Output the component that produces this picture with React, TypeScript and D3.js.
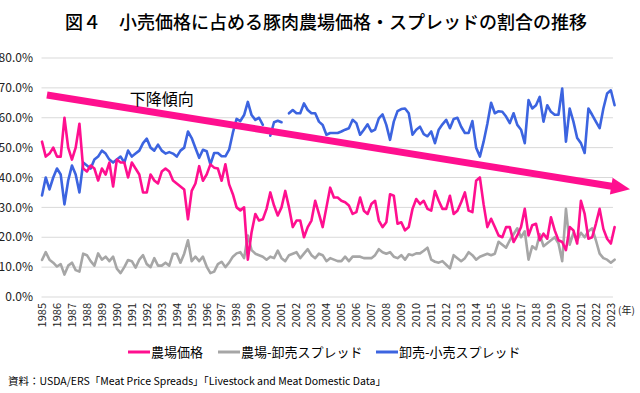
import React from 'react'
import * as d3 from 'd3'

// years on the axis; each row of the series below holds that year's quarterly readings
const years = [
  1985, 1986, 1987, 1988, 1989, 1990, 1991, 1992, 1993, 1994,
  1995, 1996, 1997, 1998, 1999, 2000, 2001, 2002, 2003, 2004,
  2005, 2006, 2007, 2008, 2009, 2010, 2011, 2012, 2013, 2014,
  2015, 2016, 2017, 2018, 2019, 2020, 2021, 2022, 2023,
]

// 農場価格 (%)
const farmShare = [
  [52, 47, 48, 50], [47, 47, 60, 50], [46, 50, 58, 43], [42, 44, 43, 39],
  [43, 41, 45, 37], [46, 45, 45, 40], [45, 43, 41, 35], [35, 41, 39, 38],
  [42, 43, 42, 39], [38, 37, 36, 26], [35.5, 38, 43.8, 38.9], [41, 44.4, 43.3, 43],
  [38.9, 44.4, 37.7, 34.4], [30, 29, 30, 12.5], [21.7, 27.8, 25.6, 26], [29.5, 35, 30.6, 27.3],
  [30, 35.5, 30, 23.4], [25.6, 25.6, 20, 23.4], [25.6, 32.2, 27.8, 23.4], [30, 36.6, 33.3, 33.3],
  [32.2, 31.7, 30.6, 27.8], [28.4, 33.3, 28.9, 27.8], [31.1, 32.2, 25.6, 23.4], [25, 34.4, 33.9, 24.5],
  [25, 22.3, 23.4, 29.5], [32.8, 31.1, 32.2, 29.5], [28.9, 35.5, 32.2, 29.5], [29.5, 33.9, 27.8, 28.9],
  [31.7, 35, 28.9, 28.4], [38.9, 40, 31, 23.4], [26.2, 23.4, 20.6, 20], [23.4, 23.4, 18.4, 20.6],
  [23.4, 29.5, 20.6, 24], [24.5, 19, 21.2, 19.5], [26.7, 22.3, 19, 18.4], [15.7, 23.4, 22.3, 17.9],
  [32.2, 27.8, 19.5, 20], [24.5, 29.5, 22.8, 19.5], [17.9, 23.4],
]

// 農場-卸売スプレッド (%)
const farmWholesale = [
  [12.4, 15, 12.5, 11.5], [10.2, 11, 7.5, 10.5], [11.5, 9, 8.5, 14.5], [14, 12, 10.5, 14.6],
  [12.5, 13.5, 12, 13.5], [9.5, 8, 10, 12.4], [12, 9.8, 12.5, 14], [11, 10, 13, 10.5],
  [10.5, 11.5, 10.5, 14.5], [14.5, 11.5, 14.5, 19], [12, 13.5, 12, 13.5], [10.2, 8, 8.5, 11],
  [11.8, 10, 11.5, 13.5], [14.6, 15, 13, 20.6], [15.7, 14.5, 14, 13.5], [12.5, 13.5, 13, 15.5],
  [13, 12, 14, 14.5], [15, 13, 14.5, 16], [14, 13, 14.5, 14], [12, 13, 12.5, 12],
  [12, 13.5, 12, 13.5], [13.5, 13.5, 13, 13], [13, 14, 16, 15], [14.5, 15, 13.5, 13],
  [14, 12.5, 14.3, 14], [14.6, 14.6, 15.5, 16.5], [12.5, 11.8, 11.5, 12], [10.8, 9.6, 14, 13],
  [12, 13, 15, 14], [12.5, 13.5, 14, 14.5], [14, 14.5, 18.5, 17.5], [16.5, 19, 21, 23],
  [20, 22, 12.5, 17], [16, 21, 17, 18], [19, 20, 18, 12], [29.5, 17.5, 21.5, 19],
  [21.5, 20, 22, 23], [19, 14.5, 13, 12.5], [11.5, 12.5],
]

// 卸売-小売スプレッド (%), null where the source has no figure
const wholesaleRetail = [
  [34, 40, 36, 40], [43, 41, 31, 39], [44, 41, 35, 45], [44, 43, 46, 47],
  [49, 48, 46, 45], [46, 47, 45, 49], [47, 48, 49, 51.5], [53, 50, 49, 51],
  [49, 48, 48.5, 48], [47, 49, 50, 55.4], [53.2, 49.9, 46.6, 49.3], [48.8, 44.4, 48.2, 48.2],
  [47.1, 47.1, 49.3, 55], [59.6, 58.9, 60.9, 65.3], [60.9, 59.3, 60, 57.6], [null, 54, 58.5, 59],
  [58.5, null, 61.5, 62.6], [61.5, 61.5, 64.8, 62.6], [61.5, 61.5, 58.7, 57.6], [54.3, 54.9, 54.9, 54.9],
  [55.4, 56, 56.5, 59.3], [58.2, 54.3, 56, 57.8], [55.4, 56, 59.8, 61.1], [57.6, 52.6, 58.7, 62.2],
  [62.9, 63.1, 61.5, 54.3], [56, 57, 54.5, 53.8], [55.4, 51.5, 56, 57.8], [59.3, 56.5, 59.6, 60],
  [57, 54.9, 54.9, 58.9], [50, 47, 52, 58], [65, 61.5, 62.2, 62], [60.4, 58.2, 61.5, 57.6],
  [56, 51.5, 65.9, 63.1], [64.2, 67, 58.7, 64.2], [62, 61, 61, 69.8], [52, 63.1, 58.7, 53.2],
  [51.5, 48.2, 63.1, 61], [58.7, 56.5, 63.1, 68.1], [69.2, 64.2],
]

const yTicks = [0, 10, 20, 30, 40, 50, 60, 70, 80]

const seriesNames = ['農場価格', '農場-卸売スプレッド', '卸売-小売スプレッド']
const seriesColors = ['#ff0f8f', '#a6a6a6', '#3c64e0']

// trend arrow drawn over the chart: [year, %]
const trendFrom = [1985.33, 67.6]
const trendTo = [2024.28, 36.1]
const trendLabel = '下降傾向'

const title = '図４　小売価格に占める豚肉農場価格・スプレッドの割合の推移'
const source = '資料：USDA/ERS「Meat Price Spreads」「Livestock and Meat Domestic Data」'

const W = 640
const H = 393
const font = "'Noto Sans CJK JP', 'Noto Sans', sans-serif"

type Pt = { t: number; v: number | null }

const toPoints = (rows: (number | null)[][]): Pt[] =>
  rows.flatMap((row, i) => row.map((v, j) => ({ t: years[i] + j / 4, v })))

const App = () => {
  const x = d3.scaleLinear().domain([1985, 2024]).range([42, 42 + 39 * 14.97])
  const y = d3.scaleLinear().domain([0, 80]).range([297, 58])

  const line = d3.line<Pt>()
    .defined(d => d.v != null)
    .x(d => x(d.t))
    .y(d => y(d.v as number))

  const series = [farmShare, farmWholesale, wholesaleRetail].map(toPoints)
  // draw order: gray, blue, pink on top
  const order = [1, 2, 0]

  const gridL = x(1985) - 0.5
  const gridR = x(2023.14)

  // arrow geometry
  const p0 = [x(trendFrom[0]), y(trendFrom[1])]
  const p1 = [x(trendTo[0]), y(trendTo[1])]
  const len = Math.hypot(p1[0] - p0[0], p1[1] - p0[1])
  const ux = (p1[0] - p0[0]) / len
  const uy = (p1[1] - p0[1]) / len
  const headLen = 19
  const headHalf = 8.5
  const bx = p1[0] - ux * headLen
  const by = p1[1] - uy * headLen
  const head = [
    [p1[0], p1[1]],
    [bx - uy * headHalf, by + ux * headHalf],
    [bx + uy * headHalf, by - ux * headHalf],
  ].map(p => p.join(',')).join(' ')

  const legendX = [128, 218, 376]

  return (
    <svg width={W} height={H} style={{ position: 'absolute', left: 0, top: 0, background: '#fff' }} fontFamily={font}>
      <rect width={W} height={H} fill='#fff' />
      <text x={326} y={29} textAnchor='middle' fontSize={18} fontWeight={500} fill='#000'>{title}</text>

      <g>
        {yTicks.map(t => (
          <g key={t}>
            <line x1={gridL} x2={gridR} y1={y(t)} y2={y(t)} stroke='#d9d9d9' strokeWidth={1} />
            <text x={33} y={y(t)} dy='0.35em' textAnchor='end' fontSize={12} fill='#222'>{t.toFixed(1)}%</text>
          </g>
        ))}
      </g>

      <g>
        {years.map(yr => (
          <text key={yr} transform={`translate(${x(yr)},303) rotate(-90)`} dy='0.35em' textAnchor='end' fontSize={11} fill='#222'>{yr}</text>
        ))}
        <text x={618} y={314} fontSize={10} fill='#222'>(年)</text>
      </g>

      <g fill='none' strokeLinejoin='round' strokeLinecap='round'>
        {order.map(i => (
          <path key={i} d={line(series[i]) || ''} stroke={seriesColors[i]} strokeWidth={2.6} />
        ))}
      </g>

      <g>
        <line x1={p0[0]} y1={p0[1]} x2={bx + ux * 2} y2={by + uy * 2} stroke={seriesColors[0]} strokeWidth={7} />
        <polygon points={head} fill={seriesColors[0]} />
        <text x={x(1993)} y={y(64.3)} textAnchor='middle' fontSize={16} fill='#000'>{trendLabel}</text>
      </g>

      <g>
        {seriesNames.map((name, i) => (
          <g key={name} transform={`translate(${legendX[i]},352)`}>
            <line x1={0} x2={22} y1={0} y2={0} stroke={seriesColors[i]} strokeWidth={3} />
            <text x={23} y={0} dy='0.35em' fontSize={13} fill='#000'>{name}</text>
          </g>
        ))}
      </g>

      <text x={8} y={381} dy='0.35em' fontSize={10.5} fill='#000'>{source}</text>
    </svg>
  )
}

export default App
